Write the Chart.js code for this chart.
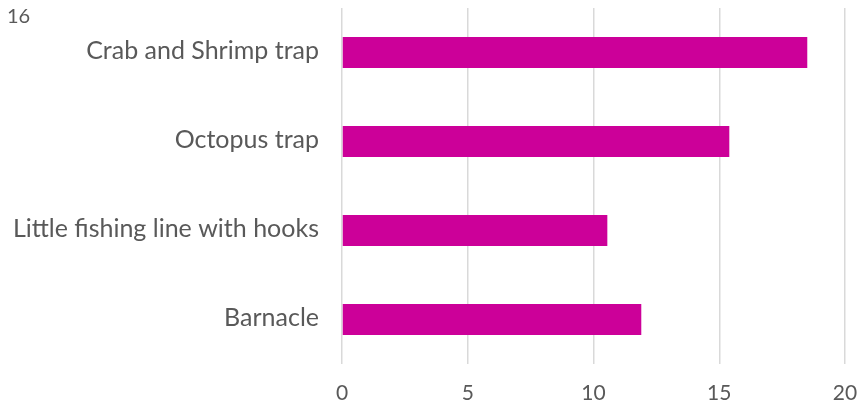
<!DOCTYPE html>
<html>
<head>
<meta charset="utf-8">
<script src="https://cdn.jsdelivr.net/npm/chart.js@4.4.0/dist/chart.umd.min.js"></script>
<style>
  html, body { margin: 0; padding: 0; background: #fff; }
  #wrap { position: relative; width: 866px; height: 406px; }
</style>
</head>
<body>
<div id="wrap"><canvas id="barChart" width="866" height="406"></canvas></div>
<script>
/* gear types and counts */
var categories = ["Crab and Shrimp trap", "Octopus trap", "Little fishing line with hooks", "Barnacle"];
var values = [18.5, 15.4, 10.55, 11.9];
var xTicks = [0, 5, 10, 15, 20];
var cornerLabel = "16";

// stray number in the top-left corner
var cornerText = {
    id: 'cornerText',
    afterDraw: function (chart) {
        var ctx = chart.ctx;
        ctx.save();
        ctx.fillStyle = '#595959';
        ctx.font = '20px Lato';
        ctx.textBaseline = 'middle';
        ctx.fillText(cornerLabel, 7, 17);
        ctx.restore();
    }
};

var chartdata = {
    labels: categories,
    datasets: [
        {
            label: "Count",
            backgroundColor: '#cc0099',
            borderWidth: 0,
            barPercentage: 0.35,
            categoryPercentage: 1,
            data: values
        }
    ]
};

var barGraph = new Chart(document.getElementById("barChart"), {
    type: 'bar',
    data: chartdata,
    plugins: [cornerText],
    options: {
        indexAxis: 'y',
        responsive: false,
        animation: false,
        layout: { padding: { top: 8, right: 21, left: 0, bottom: 0 } },
        plugins: {
            legend: { display: false },
            tooltip: { enabled: false }
        },
        scales: {
            x: {
                min: 0,
                max: 20,
                afterBuildTicks: function (axis) {
                    axis.ticks = xTicks.map(function (v) { return { value: v }; });
                },
                afterFit: function (axis) {
                    axis.height = 42;
                    axis.paddingLeft = 0;
                    axis.paddingRight = 0;
                },
                grid: { color: '#d9d9d9', lineWidth: 1.5, drawTicks: false },
                border: { display: false },
                ticks: {
                    color: '#595959',
                    font: { family: 'Lato', size: 21 },
                    padding: 17
                }
            },
            y: {
                afterFit: function (axis) {
                    axis.width = 342;
                    axis.paddingTop = 0;
                    axis.paddingBottom = 0;
                },
                grid: { display: false, drawTicks: false },
                border: { display: false },
                ticks: {
                    color: '#595959',
                    font: { family: 'Lato', size: 25 },
                    padding: 23,
                    labelOffset: -2
                }
            }
        }
    }
});
</script>
</body>
</html>
